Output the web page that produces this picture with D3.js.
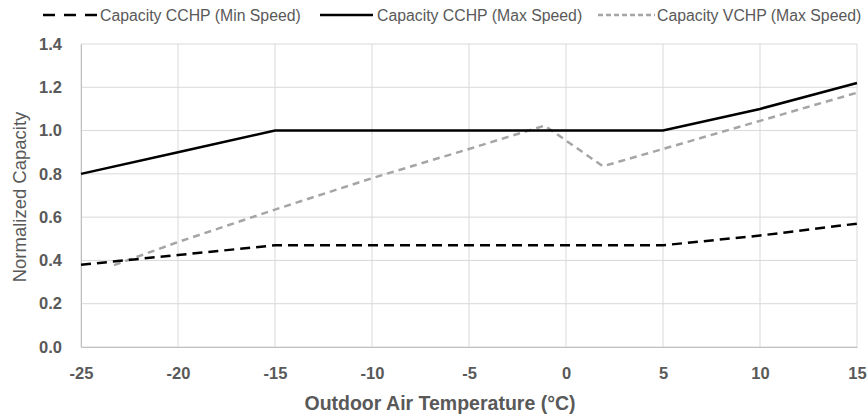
<!DOCTYPE html>
<html><head><meta charset="utf-8">
<script src="https://cdn.jsdelivr.net/npm/d3@7"></script>
<style>body{margin:0;background:#fff}svg{display:block}</style>
</head><body><svg id="c" width="867" height="418"></svg>
<script>
const xTicks = [-25,-20,-15,-10,-5,0,5,10,15];
const yTicks = [0,0.2,0.4,0.6,0.8,1.0,1.2,1.4];
const minTemp = [-25,-20,-15,-10,-5,0,5,10,15];
const minVals = [0.38,0.425,0.47,0.47,0.47,0.47,0.47,0.515,0.57];
const maxTemp = [-25,-20,-15,-10,-5,0,5,10,15];
const maxVals = [0.80,0.90,1.00,1.00,1.00,1.00,1.00,1.10,1.22];
const vTemp = [-23.3,-20,-15,-10,-5,-1.1,1.9,5,10,15];
const vVals = [0.378,0.485,0.635,0.78,0.915,1.023,0.835,0.915,1.045,1.175];
const seriesNames = ["Capacity CCHP (Min Speed)","Capacity CCHP (Max Speed)","Capacity VCHP (Max Speed)"];

const svg = d3.select("#c");
const L=81,R=857,T=44,B=347;
const x = d3.scaleLinear().domain([-25,15]).range([L,R]);
const y = d3.scaleLinear().domain([0,1.4]).range([B,T]);
const grid="#d9d9d9", txt="#595959";
const font="'Liberation Sans',Arial,sans-serif";

svg.append("g").selectAll("line").data(yTicks).join("line")
  .attr("x1",L).attr("x2",R).attr("y1",d=>y(d)).attr("y2",d=>y(d))
  .attr("stroke",grid).attr("stroke-width",1);
svg.append("g").selectAll("line").data(xTicks).join("line")
  .attr("y1",T).attr("y2",B).attr("x1",d=>x(d)).attr("x2",d=>x(d))
  .attr("stroke",grid).attr("stroke-width",1);

const ya = svg.append("g").attr("transform",`translate(${L},0)`)
  .call(d3.axisLeft(y).tickValues(yTicks).tickFormat(d3.format(".1f")).tickSize(0).tickPadding(19));
ya.select(".domain").attr("stroke","#bfbfbf");
ya.selectAll("text").attr("font-family",font).attr("font-size",16.5).attr("font-weight","bold").attr("fill",txt);
const xa = svg.append("g").attr("transform",`translate(0,${B})`)
  .call(d3.axisBottom(x).tickValues(xTicks).tickFormat(d=>String(d)).tickSize(0).tickPadding(20));
xa.select(".domain").attr("stroke","#bfbfbf");
xa.selectAll("text").attr("font-family",font).attr("font-size",16.5).attr("font-weight","bold").attr("fill",txt);

svg.append("text").attr("x",440).attr("y",410).attr("text-anchor","middle")
  .attr("font-family",font).attr("font-size",19.5).attr("font-weight","bold").attr("fill",txt)
  .text("Outdoor Air Temperature (°C)");
svg.append("text").attr("transform",`translate(26,197) rotate(-90)`).attr("text-anchor","middle")
  .attr("font-family",font).attr("font-size",18.5).attr("fill",txt)
  .text("Normalized Capacity");

const line = d3.line().x(d=>x(d[0])).y(d=>y(d[1]));
const styles = [
  {stroke:"#000",dash:"10,6",w:2.5},
  {stroke:"#000",dash:null,w:2.5},
  {stroke:"#a5a5a5",dash:"7,5",w:2.5}];
const data = [d3.zip(minTemp,minVals), d3.zip(maxTemp,maxVals), d3.zip(vTemp,vVals)];
[2,0,1].forEach(i=>{
  svg.append("path").datum(data[i]).attr("d",line).attr("fill","none")
    .attr("stroke",styles[i].stroke).attr("stroke-width",styles[i].w)
    .attr("stroke-dasharray",styles[i].dash);
});

const lx=[43,320,598], lw=[54,53,57], tx=[100,377,657];
const ldash=["12,9",null,"5,3"];
seriesNames.forEach((n,i)=>{
  svg.append("line").attr("x1",lx[i]).attr("x2",lx[i]+lw[i]).attr("y1",15).attr("y2",15)
    .attr("stroke",styles[i].stroke).attr("stroke-width",styles[i].w)
    .attr("stroke-dasharray",ldash[i]);
  svg.append("text").attr("x",tx[i]).attr("y",20.5).attr("font-family",font).attr("font-size",15.8)
    .attr("fill",txt).text(n);
});
</script></body></html>
